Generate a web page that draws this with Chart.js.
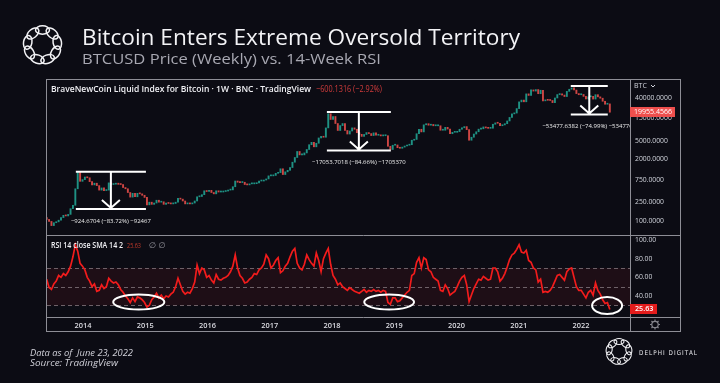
<!DOCTYPE html>
<html><head><meta charset="utf-8">
<title>Bitcoin Enters Extreme Oversold Territory</title>
<script src="https://cdn.jsdelivr.net/npm/chart.js@4.4.1/dist/chart.umd.min.js"></script>
<style>
html,body{margin:0;padding:0;background:#0c0c14;}
body{position:relative;width:720px;height:383px;overflow:hidden;}
canvas{position:absolute;display:block;}
.txt{position:absolute;white-space:nowrap;line-height:1;transform-origin:0 0;margin:0;}
#title{left:82px;top:25px;font-family:'Open Sans';font-size:22px;font-weight:400;color:#f3f3f6;}
#subtitle{left:82px;top:51px;font-family:'Open Sans';font-size:15px;font-weight:400;color:#a8a8b2;}
#note1{left:30px;top:347.5px;font-family:'Open Sans';font-style:italic;font-size:9.5px;color:#d0d0d8;}
#note2{left:30px;top:357.5px;font-family:'Open Sans';font-style:italic;font-size:9.5px;color:#d0d0d8;}
#brand{left:639px;top:350px;font-family:'DejaVu Sans';font-size:6.5px;letter-spacing:1.2px;color:#e6e6ea;}
</style></head>
<body>
<canvas id="bg" width="720" height="383" style="left:0;top:0"></canvas>
<canvas id="price" width="633" height="155" style="left:47px;top:80px"></canvas>
<canvas id="rsiChart" width="633" height="95" style="left:47px;top:236px"></canvas>
<div class="txt" id="title">Bitcoin Enters Extreme Oversold Territory</div>
<div class="txt" id="subtitle">BTCUSD Price (Weekly) vs. 14-Week RSI</div>
<div class="txt" id="note1">Data as of&nbsp; June 23, 2022</div>
<div class="txt" id="note2">Source: TradingView</div>
<div class="txt" id="brand">DELPHI DIGITAL</div>
<script>
// ---------------- DATA ----------------
const startDate = '2013-06-02';   // first (bi-weekly) sample
const stepDays = 14;
const firstOpen = 118;
const closes = [
  108, 98, 80, 92, 96, 104, 118, 132, 128, 138,
  182, 215, 480, 1080, 690, 750, 850, 820, 680, 580,
  630, 560, 450, 500, 440, 450, 640, 590, 600, 630,
  595, 590, 510, 480, 400, 320, 385, 325, 385, 375,
  350, 315, 220, 250, 225, 240, 275, 250, 255, 225,
  240, 235, 230, 235, 250, 300, 290, 265, 230, 240,
  230, 240, 265, 325, 330, 360, 435, 420, 445, 400,
  375, 435, 410, 410, 420, 430, 450, 455, 530, 700,
  660, 650, 660, 590, 580, 610, 610, 615, 640, 700,
  700, 735, 775, 900, 900, 920, 1020, 1055, 1270, 960,
  1095, 1180, 1350, 1750, 2200, 2950, 2500, 2500, 2750, 3250,
  4100, 4600, 3700, 4400, 5700, 6150, 5900, 9300, 18500, 14000,
  16200, 11500, 8200, 10400, 11500, 8200, 6900, 8000, 9300, 8700,
  7350, 6800, 6150, 6750, 7400, 7050, 6400, 7300, 6500, 6630,
  6300, 6350, 6350, 3800, 3250, 4000, 4050, 3550, 3450, 3650,
  3850, 4000, 4100, 5100, 5300, 7000, 8700, 7650, 10800, 11400,
  10600, 11000, 10300, 10300, 10300, 8300, 8300, 9550, 8800, 7000,
  7500, 7500, 7750, 8700, 9350, 9900, 8550, 5100, 5900, 6900,
  7700, 8750, 8900, 9750, 9300, 9100, 9150, 11100, 11850, 11650,
  10330, 10750, 11400, 13030, 15480, 18400, 19150, 23800, 33000, 36000,
  33100, 48700, 45200, 59000, 55800, 60000, 49100, 58200, 34700, 35800,
  35600, 35300, 31800, 39900, 47000, 48800, 46000, 42800, 55000, 61000,
  65000, 58700, 49400, 46700, 47300, 43100, 38000, 42200, 43200, 37800,
  46800, 42150, 39450, 34000, 29400, 29900, 19955.4566
];
const rsi = [
  58, 49, 47, 53, 56, 62, 60, 64, 62, 66,
  72, 82, 95, 88, 75, 72, 68, 60, 56, 50,
  53, 45, 46, 52, 48, 50, 59, 56, 54, 55,
  52, 47, 44, 40, 37, 33, 38, 34, 39, 38,
  36, 33, 28, 30, 36, 39, 43, 38, 41, 37,
  40, 39, 42, 44, 50, 59, 52, 45, 42, 44,
  43, 48, 55, 73, 64, 70, 68, 60, 62, 57,
  54, 63, 58, 57, 59, 60, 62, 66, 72, 84,
  70, 62, 59, 54, 55, 58, 60, 64, 63, 68,
  70, 74, 84, 80, 70, 73, 78, 81, 65, 67,
  72, 75, 82, 88, 91, 75, 70, 68, 74, 84,
  79, 75, 72, 86, 78, 66, 80, 86, 91, 74,
  62, 58, 52, 54, 50, 48, 46, 49, 47, 45,
  44, 43, 45, 47, 44, 46, 45, 47, 45, 46,
  44, 46, 45, 33, 31, 38, 38, 34, 35, 38,
  41, 44, 46, 62, 64, 76, 81, 70, 81, 79,
  68, 66, 60, 58, 56, 46, 45, 52, 48, 41,
  43, 45, 50, 56, 60, 62, 52, 34, 41, 48,
  53, 58, 57, 61, 59, 57, 58, 70, 70, 66,
  56, 59, 64, 71, 79, 84, 86, 90, 95, 87,
  86, 89, 78, 76, 70, 68, 55, 58, 44, 45,
  44, 46, 50, 56, 62, 63, 60, 57, 66, 69,
  70, 60, 50, 46, 46, 42, 38, 44, 46, 41,
  54, 46, 42, 36, 32, 33, 25.63
];
const yearTicks = [2014, 2015, 2016, 2017, 2018, 2019, 2020, 2021, 2022];
const priceTicks = [100, 250, 750, 2000, 5000, 15000, 40000];
const rsiTicks = [40, 60, 80, 100];
const rsiLevels = [30, 50, 70];
const lastPrice = 19955.4566;
const lastRsi = 25.63;
const ddFrom  = ['2013-11-20', '2017-12-02', '2021-11-02'];
const ddTo    = ['2015-01-05', '2018-12-12', '2022-06-07'];
const ddHigh  = [1104.5, 20144, 71313];
const ddLow   = [179.8, 3090, 17835];
const ddText  = ['\u2212924.6704 (\u221283.72%) \u221292467', '\u221217053.7018 (\u221284.66%) \u22121705370', '\u221253477.6382 (\u221274.99%) \u22125347764'];
const ovalCenter = ['2014-11-24', '2018-12-02', '2022-06-03'];
const ovalRsi = [33.5, 33.5, 29.8];

// ------------- layout / style config -------------
const view = { xMin: 2013.4217, xMax: 2022.7871, pMin: 50.6, pMax: 95700, rMin: 17.5, rMax: 104.3 };
const ovalSize = [{days:150, r:8}, {days:146, r:8}, {days:88, r:9.1}];
const UP = '#1f9284', DOWN = '#cf4644';
const AXIS_FONT = 6.8;

function toDate(s){ return new Date(s + 'T00:00:00Z'); }
function dateAt(i){ const d = toDate(startDate); d.setUTCDate(d.getUTCDate() + i*stepDays); return d; }
function decYear(d){ if (typeof d === 'string') d = toDate(d); const y = d.getUTCFullYear(); const s = Date.UTC(y,0,1), e = Date.UTC(y+1,0,1); return y + (d.getTime()-s)/(e-s); }
function shiftDays(s, n){ const d = toDate(s); d.setUTCDate(d.getUTCDate()+n); return d; }

const xs = closes.map((_, i) => decYear(dateAt(i)));
const candles = closes.map((c, i) => ({ x: xs[i], y: [i ? closes[i-1] : firstOpen, c] }));
const candleColors = candles.map(d => d.y[1] >= d.y[0] ? UP : DOWN);
const rsiPoints = rsi.map((v, i) => ({ x: xs[i], y: v }));

// ------------- background chrome -------------
const bg = document.getElementById('bg').getContext('2d');
bg.fillStyle = '#0c0c14'; bg.fillRect(0,0,720,383);
bg.strokeStyle = '#8e8e96'; bg.lineWidth = 1;
bg.strokeRect(46.5, 79.5, 634, 252);
bg.beginPath();
bg.moveTo(630.5, 79.5); bg.lineTo(630.5, 331.5);
bg.moveTo(46.5, 235.5); bg.lineTo(680.5, 235.5);
bg.moveTo(46.5, 317.5); bg.lineTo(680.5, 317.5);
bg.stroke();
function ringLogo(g, cx, cy, R, a, b, n, lw){
  g.save(); g.strokeStyle = '#f2f2f5'; g.lineWidth = lw;
  for (let k = 0; k < n; k++){
    const t = k*2*Math.PI/n - Math.PI/2;
    g.beginPath(); g.ellipse(cx + R*Math.cos(t), cy + R*Math.sin(t), a, b, t + Math.PI/2, 0, 2*Math.PI); g.stroke();
  }
  g.restore();
}
ringLogo(bg, 42.5, 45, 15, 7, 4.2, 9, 1.5);
ringLogo(bg, 619, 351.5, 10, 5, 3, 9, 1.1);

function fit(id, w){ const el = document.getElementById(id); const r = w / el.getBoundingClientRect().width; el.style.transform = 'scaleX(' + r + ')'; }
fit('title', 438); fit('subtitle', 299); fit('note1', 103); fit('note2', 88); fit('brand', 59);

// ------------- helpers -------------
function fillFit(ctx, text, x, y, font, w){
  ctx.save(); ctx.font = font; const m = ctx.measureText(text).width;
  ctx.translate(x, y); ctx.scale(w/m, 1); ctx.fillText(text, 0, 0); ctx.restore();
}
Chart.defaults.font.family = 'Open Sans';

const pricePlugin = {
  id: 'priceDecor',
  afterDatasetsDraw(chart){
    const {ctx, chartArea: a, scales: {x, y}} = chart;
    ctx.save();
    ctx.beginPath(); ctx.rect(a.left, a.top, a.right - a.left, a.bottom - a.top); ctx.clip();
    ctx.strokeStyle = '#ffffff'; ctx.lineWidth = 2; ctx.lineCap = 'butt';
    for (let k = 0; k < ddFrom.length; k++){
      const x1 = x.getPixelForValue(decYear(ddFrom[k])), x2 = x.getPixelForValue(decYear(ddTo[k]));
      const yh = y.getPixelForValue(ddHigh[k]), yl = y.getPixelForValue(ddLow[k]);
      const cx = (x1 + x2)/2;
      ctx.beginPath();
      ctx.moveTo(x1, yh); ctx.lineTo(x2, yh);
      ctx.moveTo(x1, yl); ctx.lineTo(x2, yl);
      ctx.moveTo(cx, yh); ctx.lineTo(cx, yl - 1);
      ctx.moveTo(cx - 9, yl - 9); ctx.lineTo(cx, yl - 1); ctx.lineTo(cx + 9, yl - 9);
      ctx.stroke();
      ctx.fillStyle = '#ececec'; ctx.font = '6px "Open Sans"'; ctx.textAlign = 'center'; ctx.textBaseline = 'middle';
      ctx.fillText(ddText[k], cx, yl + 12);
    }
    ctx.restore();
    ctx.save();
    ctx.textBaseline = 'middle'; ctx.textAlign = 'left';
    ctx.fillStyle = '#f0f0f4';
    fillFit(ctx, 'BraveNewCoin Liquid Index for Bitcoin \u00b7 1W \u00b7 BNC \u00b7 TradingView', 4, 9, '600 9px "Open Sans"', 260);
    ctx.fillStyle = '#d23c3c';
    fillFit(ctx, '\u2212600.1316 (\u22122.92%)', 269, 9, '9px "Open Sans"', 66);
    ctx.restore();
  },
  afterDraw(chart){
    const {ctx, chartArea: a, scales: {y}} = chart;
    ctx.save();
    const yy = Math.round(y.getPixelForValue(lastPrice));
    ctx.fillStyle = '#ee4f4d'; ctx.fillRect(a.right, yy - 5, 45, 10);
    ctx.fillStyle = '#ffffff'; ctx.textBaseline = 'middle'; ctx.textAlign = 'left';
    fillFit(ctx, lastPrice.toFixed(4), a.right + 4, yy, '7.2px "Open Sans"', 38);
    ctx.fillStyle = '#d1d4dc'; ctx.font = '7px "Open Sans"';
    ctx.fillText('BTC', a.right + 4, 6);
    ctx.strokeStyle = '#d1d4dc'; ctx.lineWidth = 1;
    ctx.beginPath(); ctx.moveTo(a.right + 21, 5); ctx.lineTo(a.right + 23, 7); ctx.lineTo(a.right + 25, 5); ctx.stroke();
    ctx.restore();
  }
};

const rsiPlugin = {
  id: 'rsiDecor',
  beforeDatasetsDraw(chart){
    const {ctx, chartArea: a, scales: {y}} = chart;
    ctx.save();
    const yTop = y.getPixelForValue(rsiLevels[2]), yBot = y.getPixelForValue(rsiLevels[0]);
    ctx.fillStyle = 'rgba(125,22,38,0.16)';
    ctx.fillRect(a.left, yTop, a.right - a.left, yBot - yTop);
    ctx.strokeStyle = '#6e6168'; ctx.lineWidth = 1; ctx.setLineDash([4, 3]);
    rsiLevels.forEach(v => { const p = Math.round(y.getPixelForValue(v)) + 0.5; ctx.beginPath(); ctx.moveTo(a.left, p); ctx.lineTo(a.right, p); ctx.stroke(); });
    ctx.restore();
  },
  afterDatasetsDraw(chart){
    const {ctx, scales: {x, y}} = chart;
    ctx.save();
    ctx.strokeStyle = '#ffffff'; ctx.lineWidth = 2;
    for (let k = 0; k < ovalCenter.length; k++){
      const cx = x.getPixelForValue(decYear(ovalCenter[k]));
      const rx = cx - x.getPixelForValue(decYear(shiftDays(ovalCenter[k], -ovalSize[k].days)));
      const cy = y.getPixelForValue(ovalRsi[k]);
      const ry = y.getPixelForValue(ovalRsi[k] - ovalSize[k].r) - cy;
      ctx.beginPath(); ctx.ellipse(cx, cy, rx, ry, 0, 0, 2*Math.PI); ctx.stroke();
    }
    ctx.textBaseline = 'middle'; ctx.textAlign = 'left';
    ctx.fillStyle = '#f0f0f4';
    fillFit(ctx, 'RSI 14 close SMA 14 2', 4, 10, '600 8px "Open Sans"', 72);
    ctx.fillStyle = '#c0392b';
    fillFit(ctx, lastRsi.toFixed(2), 80, 10, '8px "Open Sans"', 14);
    ctx.fillStyle = '#9a9aa2'; ctx.font = '8px "DejaVu Sans"';
    ctx.fillText('\u2205 \u2205', 102, 10);
    ctx.restore();
  },
  afterDraw(chart){
    const {ctx, chartArea: a, scales: {y}} = chart;
    ctx.save();
    const yy = Math.round(y.getPixelForValue(lastRsi));
    ctx.fillStyle = '#e31c1c'; ctx.fillRect(a.right, yy - 5, 27, 10);
    ctx.fillStyle = '#ffffff'; ctx.font = '600 7.2px "Open Sans"'; ctx.textBaseline = 'middle'; ctx.textAlign = 'left';
    ctx.fillText(lastRsi.toFixed(2), a.right + 5, yy);
    // settings gear
    const gx = a.right + 25, gy = a.bottom + 7.5;
    ctx.strokeStyle = '#85858d'; ctx.lineWidth = 1.2;
    ctx.beginPath(); ctx.arc(gx, gy, 3.2, 0, 2*Math.PI); ctx.stroke();
    ctx.beginPath();
    for (let k = 0; k < 8; k++){ const t = k*Math.PI/4; ctx.moveTo(gx + 3.2*Math.cos(t), gy + 3.2*Math.sin(t)); ctx.lineTo(gx + 5*Math.cos(t), gy + 5*Math.sin(t)); }
    ctx.stroke();
    ctx.restore();
  }
};

const common = {
  responsive: false, devicePixelRatio: 1, animation: false, events: [],
  layout: { padding: 0 },
  plugins: { legend: { display: false }, tooltip: { enabled: false } }
};
function rightAxis(extra){
  return Object.assign({
    position: 'right',
    afterFit(s){ s.width = 50; s.paddingTop = 0; s.paddingBottom = 0; },
    grid: { display: false, drawTicks: false }, border: { display: false },
  }, extra);
}

new Chart(document.getElementById('price'), {
  type: 'bar',
  data: { datasets: [{ data: candles, backgroundColor: candleColors, borderWidth: 0, barThickness: 1.25, minBarLength: 1, grouped: false }] },
  options: Object.assign({}, common, {
    scales: {
      x: { type: 'linear', min: view.xMin, max: view.xMax, display: false, offset: false },
      y: rightAxis({
        type: 'logarithmic', min: view.pMin, max: view.pMax,
        afterBuildTicks(s){ s.ticks = priceTicks.map(v => ({ value: v })); },
        ticks: { color: '#d1d4dc', padding: 5, font: { size: AXIS_FONT }, callback: v => Number(v).toFixed(4) }
      })
    }
  }),
  plugins: [pricePlugin]
});

new Chart(document.getElementById('rsiChart'), {
  type: 'line',
  data: { datasets: [{ data: rsiPoints, borderColor: '#f21c1c', borderWidth: 1.7, pointRadius: 0, tension: 0, fill: false }] },
  options: Object.assign({}, common, {
    scales: {
      x: {
        type: 'linear', position: 'bottom', min: view.xMin, max: view.xMax, offset: false,
        afterFit(s){ s.height = 14; s.paddingLeft = 0; s.paddingRight = 0; },
        afterBuildTicks(s){ s.ticks = yearTicks.map(v => ({ value: v })); },
        grid: { display: false, drawTicks: false }, border: { display: false },
        ticks: { color: '#dcdce2', padding: 4, maxRotation: 0, autoSkip: false, font: { size: 7.4, weight: '600' }, callback: v => String(v) }
      },
      y: rightAxis({
        type: 'linear', min: view.rMin, max: view.rMax,
        afterBuildTicks(s){ s.ticks = rsiTicks.map(v => ({ value: v })); },
        ticks: { color: '#d1d4dc', padding: 5, font: { size: AXIS_FONT }, callback: v => Number(v).toFixed(2) }
      })
    }
  }),
  plugins: [rsiPlugin]
});
</script>
</body></html>
